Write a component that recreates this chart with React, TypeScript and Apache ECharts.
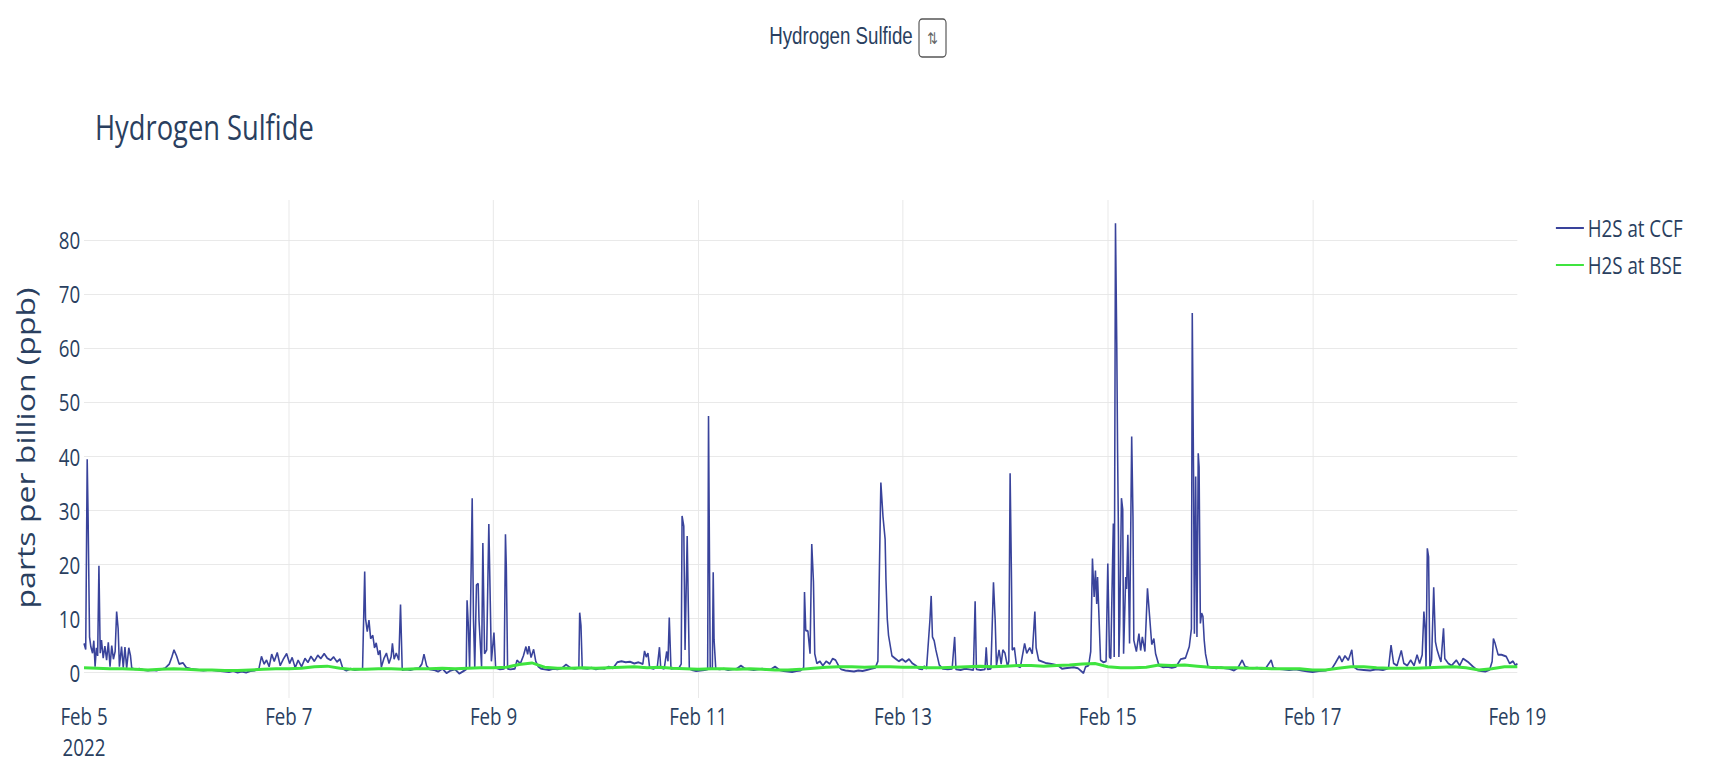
import React, { useEffect, useRef } from "react";
import * as echarts from "echarts";

// ---------- DATA ----------
// Hours after Feb 5 2022 00:00, value in ppb (H2S at CCF)
const ccfFeb5to6: [number, number][] = [
  [0, 5.3], [0.4, 4.2], [0.75, 39.4], [0.95, 29.4], [1.3, 6.5], [1.6, 4.7], [2.0, 3.5], [2.3, 5.8], [2.6, 1.0], [2.9, 4.5],
  [3.2, 3.0], [3.5, 19.7], [3.8, 3.5], [4.1, 5.9], [4.5, 2.6], [4.9, 4.8], [5.3, 2.2], [5.7, 5.5], [6.1, 1.0], [6.5, 4.9],
  [6.9, 2.4], [7.3, 3.8], [7.65, 11.2], [8.0, 8.1], [8.3, 1.0], [8.8, 4.7], [9.2, 0.8], [9.6, 4.6], [10.0, 0.7], [10.5, 4.5],
  [10.9, 3.0], [11.2, 0.7], [12, 0.5], [13, 0.6], [14, 0.4], [15, 0.3], [16, 0.4], [17, 0.3], [18, 0.5], [19, 0.7],
  [20, 1.5], [20.6, 2.8], [21.1, 4.1], [21.7, 3.0], [22.3, 1.5], [23.2, 1.7], [24, 0.8], [25, 0.6], [26, 0.5], [27, 0.4],
  [28, 0.3], [29, 0.4], [30, 0.4], [31, 0.3], [32, 0.2], [33, 0.1], [34, 0.0], [35, 0.2], [36, -0.1], [37, 0.1],
  [38, -0.1], [39, 0.2], [40, 0.3], [41, 0.6], [41.6, 2.9], [42.2, 1.5], [42.8, 2.2], [43.4, 1.0], [44, 3.3], [44.6, 2.0],
  [45.3, 3.6], [46, 1.2], [46.8, 2.5], [47.5, 3.4],
];
const ccfFeb7to8: [number, number][] = [
  [48.2, 1.6], [48.8, 2.7], [49.5, 0.8], [50.2, 2.2], [51, 1.0], [51.8, 2.5], [52.5, 1.8], [53.2, 2.9], [54, 2.0], [54.8, 3.1],
  [55.5, 2.5], [56.3, 3.4], [57, 2.6], [57.8, 2.2], [58.5, 2.8], [59.3, 1.9], [60, 2.4], [60.7, 0.6], [61.5, 0.3], [62.5, 0.6],
  [63.5, 0.4], [64.5, 0.5], [65.3, 0.6], [65.8, 18.6], [66.0, 9.9], [66.4, 7.5], [66.8, 9.6], [67.2, 6.2], [67.7, 6.8], [68.1, 4.5],
  [68.5, 5.4], [69.0, 3.2], [69.4, 4.0], [69.7, 0.9], [70.3, 2.5], [70.9, 3.5], [71.5, 1.6], [72.0, 2.8], [72.3, 5.3], [72.7, 2.4],
  [73.2, 3.5], [73.8, 2.2], [74.2, 12.5], [74.6, 0.4], [75.5, 0.5], [76.5, 0.4], [77.5, 0.6], [78.5, 0.7], [79.2, 1.5], [79.7, 3.3],
  [80.3, 1.2], [81, 0.5], [82, 0.4], [83, 0.1], [84, 0.6], [85, -0.2], [86, 0.3], [87, 0.5], [88, -0.3], [89, 0.2],
  [89.6, 0.5], [89.8, 13.3], [90.1, 8.6], [90.4, 0.6], [91.0, 32.2], [91.3, 9.9], [91.6, 0.8], [92.0, 16.1], [92.4, 16.4], [92.6, 9.6],
  [93.2, 1.0], [93.5, 23.9], [93.9, 3.4], [94.4, 4.1], [94.9, 27.4], [95.5, 2.0],
];
const ccfFeb9to10: [number, number][] = [
  [96.1, 7.3], [96.5, 0.8], [97.5, 0.5], [98.5, 0.6], [98.8, 25.5], [99.0, 19.5], [99.3, 0.6], [100, 0.5], [101, 0.6], [101.5, 2.2],
  [102.3, 1.6], [103.0, 3.0], [103.6, 4.7], [104.0, 3.3], [104.3, 4.8], [104.8, 2.7], [105.4, 4.2], [105.9, 2.0], [106.5, 1.0], [107.2, 0.6],
  [108, 0.5], [109, 0.4], [110, 0.6], [111, 0.5], [112, 0.7], [113, 1.4], [114, 0.8], [115, 0.6], [116.0, 0.8], [116.2, 11.0],
  [116.5, 8.6], [116.8, 0.7], [118, 0.6], [119, 0.8], [120, 0.5], [121, 0.7], [122, 0.6], [123, 1.0], [124, 0.7], [125, 1.8],
  [126, 2.0], [127, 1.8], [128, 1.9], [129, 1.6], [130, 1.8], [131, 1.5], [131.4, 3.9], [131.8, 2.8], [132.2, 3.5], [132.6, 0.8],
  [133.5, 0.6], [134.4, 1.0], [134.9, 4.6], [135.2, 0.8], [136, 0.6], [136.6, 3.8], [136.9, 2.0], [137.2, 10.1], [137.6, 0.6], [138.5, 0.7],
  [139.5, 0.8], [140.0, 1.5], [140.2, 28.9], [140.6, 27.0], [140.9, 4.1], [141.4, 25.2], [141.9, 0.6], [142.5, 0.4], [143.5, 0.2],
];
const ccfFeb11to12: [number, number][] = [
  [144.5, 0.3], [145.5, 0.4], [146.2, 0.5], [146.4, 47.4], [146.8, 0.6], [147.3, 0.6], [147.5, 18.5], [147.7, 6.0], [148.1, 0.6], [149, 0.5],
  [150, 0.6], [151, 0.4], [152, 0.5], [153, 0.6], [154, 1.2], [155, 0.6], [156, 0.5], [157, 0.4], [158, 0.5], [159, 0.6],
  [160, 0.4], [161, 0.5], [162, 1.0], [163, 0.4], [164, 0.2], [165, 0.1], [166, 0.0], [167, 0.2], [168, 0.3], [168.7, 0.8],
  [168.9, 14.8], [169.2, 7.7], [169.7, 7.6], [170.2, 3.4], [170.6, 23.7], [171.0, 16.7], [171.3, 3.4], [171.8, 1.6], [172.5, 2.0], [173.2, 1.2],
  [174, 2.0], [174.8, 1.5], [175.5, 2.5], [176.2, 2.2], [177, 1.0], [177.5, 0.5], [178.5, 0.3], [179.5, 0.2], [180.5, 0.1], [181.5, 0.3],
  [182.5, 0.2], [183.5, 0.4], [184.5, 0.6], [185.5, 0.8], [186.1, 2.0], [186.8, 35.1], [187.3, 28.8], [187.8, 24.6], [188.0, 17.0], [188.3, 9.9],
  [188.6, 6.8], [189.4, 3.0], [190.2, 2.5], [191, 2.0], [191.8, 2.4],
];
const ccfFeb13to14: [number, number][] = [
  [192.6, 1.9], [193.4, 2.4], [194.2, 1.6], [195, 1.2], [195.8, 0.6], [196.5, 0.5], [197, 1.1], [197.5, 0.6], [198.3, 9.6], [198.6, 14.1],
  [198.9, 6.5], [199.3, 5.8], [199.7, 4.1], [200.5, 1.3], [201.3, 0.6], [202.5, 0.5], [203.5, 0.6], [204.1, 6.5], [204.4, 0.5], [205.5, 0.4],
  [206.5, 0.6], [207.5, 0.5], [208.5, 0.4], [208.9, 13.1], [209.2, 0.5], [210.2, 0.4], [211.2, 0.5], [211.5, 4.6], [211.8, 0.5], [212.6, 0.6],
  [213.2, 16.6], [213.6, 9.6], [213.9, 1.2], [214.5, 4.1], [215.0, 1.5], [215.4, 4.1], [215.9, 3.5], [216.5, 1.0], [216.8, 2.0], [217.1, 36.8],
  [217.4, 18.5], [217.6, 4.1], [218.1, 4.5], [218.6, 1.2], [219.5, 0.9], [220.5, 5.3], [221.0, 3.5], [221.7, 4.5], [222.3, 3.4], [222.9, 11.2],
  [223.2, 4.5], [223.8, 2.2], [225.4, 1.7], [226.8, 1.5], [228.4, 1.2], [229.3, 0.6], [230, 0.7], [231, 0.8], [232, 0.9], [233, 0.7],
  [234.3, -0.2], [234.8, 1.0], [235.5, 1.2], [236.0, 3.8], [236.4, 21.0], [236.8, 13.9], [237.1, 18.8], [237.4, 12.6], [237.6, 17.6], [238.3, 2.2],
  [239.0, 1.8], [239.6, 2.0],
];
const ccfFeb15to16: [number, number][] = [
  [240.0, 20.1], [240.4, 2.8], [240.7, 2.5], [241.05, 17.6], [241.3, 27.5], [241.5, 2.8], [241.8, 83.1], [242.1, 60.9], [242.3, 40.5], [242.5, 25.0],
  [242.6, 2.8], [242.8, 9.0], [243.2, 32.2], [243.5, 30.1], [243.7, 3.4], [244.2, 17.6], [244.4, 15.4], [244.7, 25.4], [245.1, 5.3], [245.6, 43.6],
  [245.9, 28.8], [246.1, 5.9], [246.7, 3.8], [247.3, 7.1], [247.7, 4.0], [248.1, 6.5], [248.7, 3.8], [249.3, 15.5], [249.8, 10.3], [250.3, 5.1],
  [250.8, 6.2], [251.2, 3.4], [252.0, 1.2], [253, 0.9], [254, 1.0], [255, 0.8], [256, 1.0], [257.1, 2.4], [258.2, 2.6], [259.1, 4.7],
  [259.6, 8.0], [259.8, 66.5], [260.1, 36.8], [260.3, 7.1], [260.6, 36.2], [260.9, 6.5], [261.2, 40.5], [261.4, 38.0], [261.7, 9.0], [262.0, 10.9],
  [262.3, 10.3], [262.6, 5.9], [262.9, 3.4], [263.5, 1.0], [264.5, 0.8], [265.5, 0.7], [266.5, 0.9], [267.5, 0.7], [268.5, 0.6], [269.6, 0.3],
  [270.5, 0.8], [271.5, 2.2], [272.2, 1.0], [273, 0.8], [274, 0.7], [275, 0.8], [276, 0.6], [277, 0.7], [278.3, 2.2], [278.8, 0.8],
  [279.5, 0.6], [281, 0.5], [282.5, 0.4], [284, 0.5], [285.5, 0.3], [287, 0.1],
];
const ccfFeb17to18: [number, number][] = [
  [288, 0.0], [289.5, 0.2], [291, 0.3], [292.5, 0.6], [293.3, 1.6], [294.3, 3.0], [294.9, 1.9], [295.6, 3.0], [296.4, 2.2], [297.2, 4.1],
  [297.6, 1.0], [298.5, 0.5], [300, 0.4], [301.5, 0.3], [303, 0.5], [304.5, 0.4], [305.8, 0.7], [306.4, 5.0], [307.0, 1.6], [307.8, 1.2],
  [308.8, 4.0], [309.4, 1.6], [310.2, 1.2], [311.0, 2.2], [311.8, 1.2], [312.5, 3.2], [313.1, 1.6], [313.7, 3.2], [314.1, 11.2], [314.4, 7.8],
  [314.6, 1.0], [314.9, 22.9], [315.2, 21.3], [315.5, 1.0], [315.9, 2.2], [316.4, 15.7], [316.8, 5.6], [317.2, 4.1], [317.7, 2.8], [318.1, 1.9],
  [318.7, 8.1], [319.0, 2.5], [319.8, 1.6], [320.6, 1.2], [321.7, 2.2], [322.5, 1.2], [323.3, 2.5], [324.4, 1.9], [325.6, 1.0], [326.5, 0.4],
  [327.5, 0.2], [328.5, 0.1], [329.5, 0.4], [330.1, 2.0], [330.4, 6.2], [330.8, 5.3], [331.5, 3.2], [332.3, 3.2], [333.4, 2.9], [334.2, 1.6],
  [335.0, 2.0], [335.6, 1.2], [336, 1.6],
];

// H2S at BSE, one value every 3 hours from Feb 5 00:00
const bseWeek1: number[] = [
  0.8, 0.7, 0.6, 0.6, 0.5, 0.4, 0.5, 0.6,
  0.5, 0.4, 0.4, 0.3, 0.3, 0.4, 0.5, 0.6,
  0.6, 0.7, 1.0, 1.1, 0.7, 0.5, 0.5, 0.6,
  0.6, 0.5, 0.6, 0.6, 0.7, 0.6, 0.7, 0.8,
  0.8, 0.9, 1.4, 1.7, 0.9, 0.7, 0.7, 0.8,
  0.7, 0.8, 0.9, 1.0, 0.8, 0.9, 0.7, 0.6,
  0.5, 0.6, 0.6, 0.5, 0.6, 0.5, 0.4, 0.4,
];
const bseWeek2: number[] = [
  0.5, 0.7, 0.9, 1.0, 1.0, 0.9, 1.0, 1.0,
  0.9, 0.9, 0.8, 0.8, 0.9, 1.0, 1.1, 1.0,
  1.1, 1.2, 1.2, 1.1, 1.2, 1.3, 1.5, 1.6,
  1.0, 0.8, 0.8, 0.9, 1.3, 1.2, 1.3, 1.1,
  0.9, 0.8, 0.8, 0.7, 0.7, 0.6, 0.6, 0.6,
  0.4, 0.4, 0.7, 1.0, 1.0, 0.8, 0.7, 0.7,
  0.7, 0.8, 0.9, 1.0, 0.8, 0.4, 0.6, 1.0,
  1.0,
];

const xTickLabels = ["Feb 5\n2022", "Feb 7", "Feb 9", "Feb 11", "Feb 13", "Feb 15", "Feb 17", "Feb 19"];
const seriesNames = ["H2S at CCF", "H2S at BSE"];
const seriesColors = ["#39439b", "#3fe43f"];
const chartTitle = "Hydrogen Sulfide";
const yAxisTitle = "parts per billion (ppb)";

// ---------- LAYOUT ----------
const SX = 0.78; // horizontal squeeze of the reference screenshot
const W = 1711 / SX;
const H = 772;
const px = (x: number) => x / SX;
const FONT = "'Open Sans', verdana, arial, sans-serif";
const TXT = "#2a3f5f";
const GRID = "#e6e6e6";

export default function App() {
  const ref = useRef<HTMLDivElement>(null);

  useEffect(() => {
    if (!ref.current) return;
    const chart = echarts.init(ref.current, null, { renderer: "svg" });
    const ccf = [
      ...ccfFeb5to6, ...ccfFeb7to8, ...ccfFeb9to10, ...ccfFeb11to12,
      ...ccfFeb13to14, ...ccfFeb15to16, ...ccfFeb17to18,
    ];
    const bse = [...bseWeek1, ...bseWeek2].map((v, i) => [i * 3, v]);

    chart.setOption({
      animation: false,
      backgroundColor: "#ffffff",
      textStyle: { fontFamily: FONT },
      grid: { left: px(84), right: px(194), top: 200, bottom: 74, containLabel: false },
      legend: {
        orient: "vertical",
        left: px(1552),
        top: 208,
        icon: "rect",
        itemWidth: px(28),
        itemHeight: 2,
        itemGap: 7,
        data: seriesNames,
        textStyle: { fontSize: 24, lineHeight: 30, color: TXT, fontFamily: FONT },
      },
      xAxis: {
        type: "value",
        min: 0,
        max: 336,
        interval: 48,
        axisLine: { show: false },
        axisTick: { show: false },
        splitLine: { show: true, showMinLine: false, showMaxLine: false, lineStyle: { color: GRID, width: 1 } },
        axisLabel: {
          fontSize: 24,
          lineHeight: 31,
          color: TXT,
          margin: 2,
          fontFamily: FONT,
          showMinLabel: true,
          showMaxLabel: true,
          formatter: (v: number) => xTickLabels[Math.round(v / 48)] ?? "",
        },
      },
      yAxis: {
        type: "value",
        min: -4.8,
        max: 87.4,
        minInterval: 10,
        maxInterval: 10,
        splitNumber: 9,
        axisLine: { show: false },
        axisTick: { show: false },
        splitLine: { show: true, showMinLine: false, showMaxLine: false, lineStyle: { color: GRID, width: 1 } },
        axisLabel: {
          fontSize: 24,
          color: TXT,
          margin: 5,
          fontFamily: FONT,
          showMinLabel: false,
          showMaxLabel: false,
          formatter: (v: number) => String(Math.round(v)),
        },
      },
      graphic: [
        {
          type: "text",
          x: px(95),
          y: 126,
          style: { text: chartTitle, fontSize: 35, fontFamily: FONT, fill: TXT, align: "left", verticalAlign: "middle" },
        },
        {
          type: "text",
          x: px(25),
          y: 448,
          rotation: Math.PI / 2,
          style: { text: yAxisTitle, fontSize: 32, fontFamily: FONT, fill: TXT, align: "center", verticalAlign: "middle" },
        },
        {
          type: "text",
          x: px(841),
          y: 36,
          style: { text: chartTitle, fontSize: 24, fontFamily: "'Liberation Sans', Arial, sans-serif", fill: TXT, align: "center", verticalAlign: "middle" },
        },
        {
          type: "rect",
          shape: { x: px(919), y: 19, width: px(27), height: 38, r: 4 },
          style: { fill: "rgba(0,0,0,0)", stroke: "#555555", lineWidth: 1.5 },
        },
        {
          type: "text",
          x: px(932.5),
          y: 38,
          style: { text: "⇅", fontSize: 16, fontFamily: "'DejaVu Sans', sans-serif", fill: "#666666", align: "center", verticalAlign: "middle" },
        },
      ],
      series: [
        {
          name: seriesNames[0],
          type: "line",
          data: ccf,
          symbol: "none",
          showSymbol: false,
          lineStyle: { width: 2, color: seriesColors[0] },
          itemStyle: { color: seriesColors[0] },
        },
        {
          name: seriesNames[1],
          type: "line",
          data: bse,
          symbol: "none",
          showSymbol: false,
          lineStyle: { width: 3, color: seriesColors[1] },
          itemStyle: { color: seriesColors[1] },
        },
      ],
    });
    return () => chart.dispose();
  }, []);

  return (
    <div style={{ position: "absolute", left: 0, top: 0, width: 1711, height: H, overflow: "hidden", background: "#ffffff" }}>
      <div
        ref={ref}
        style={{ width: W, height: H, transform: `scaleX(${SX})`, transformOrigin: "0 0" }}
      />
    </div>
  );
}
